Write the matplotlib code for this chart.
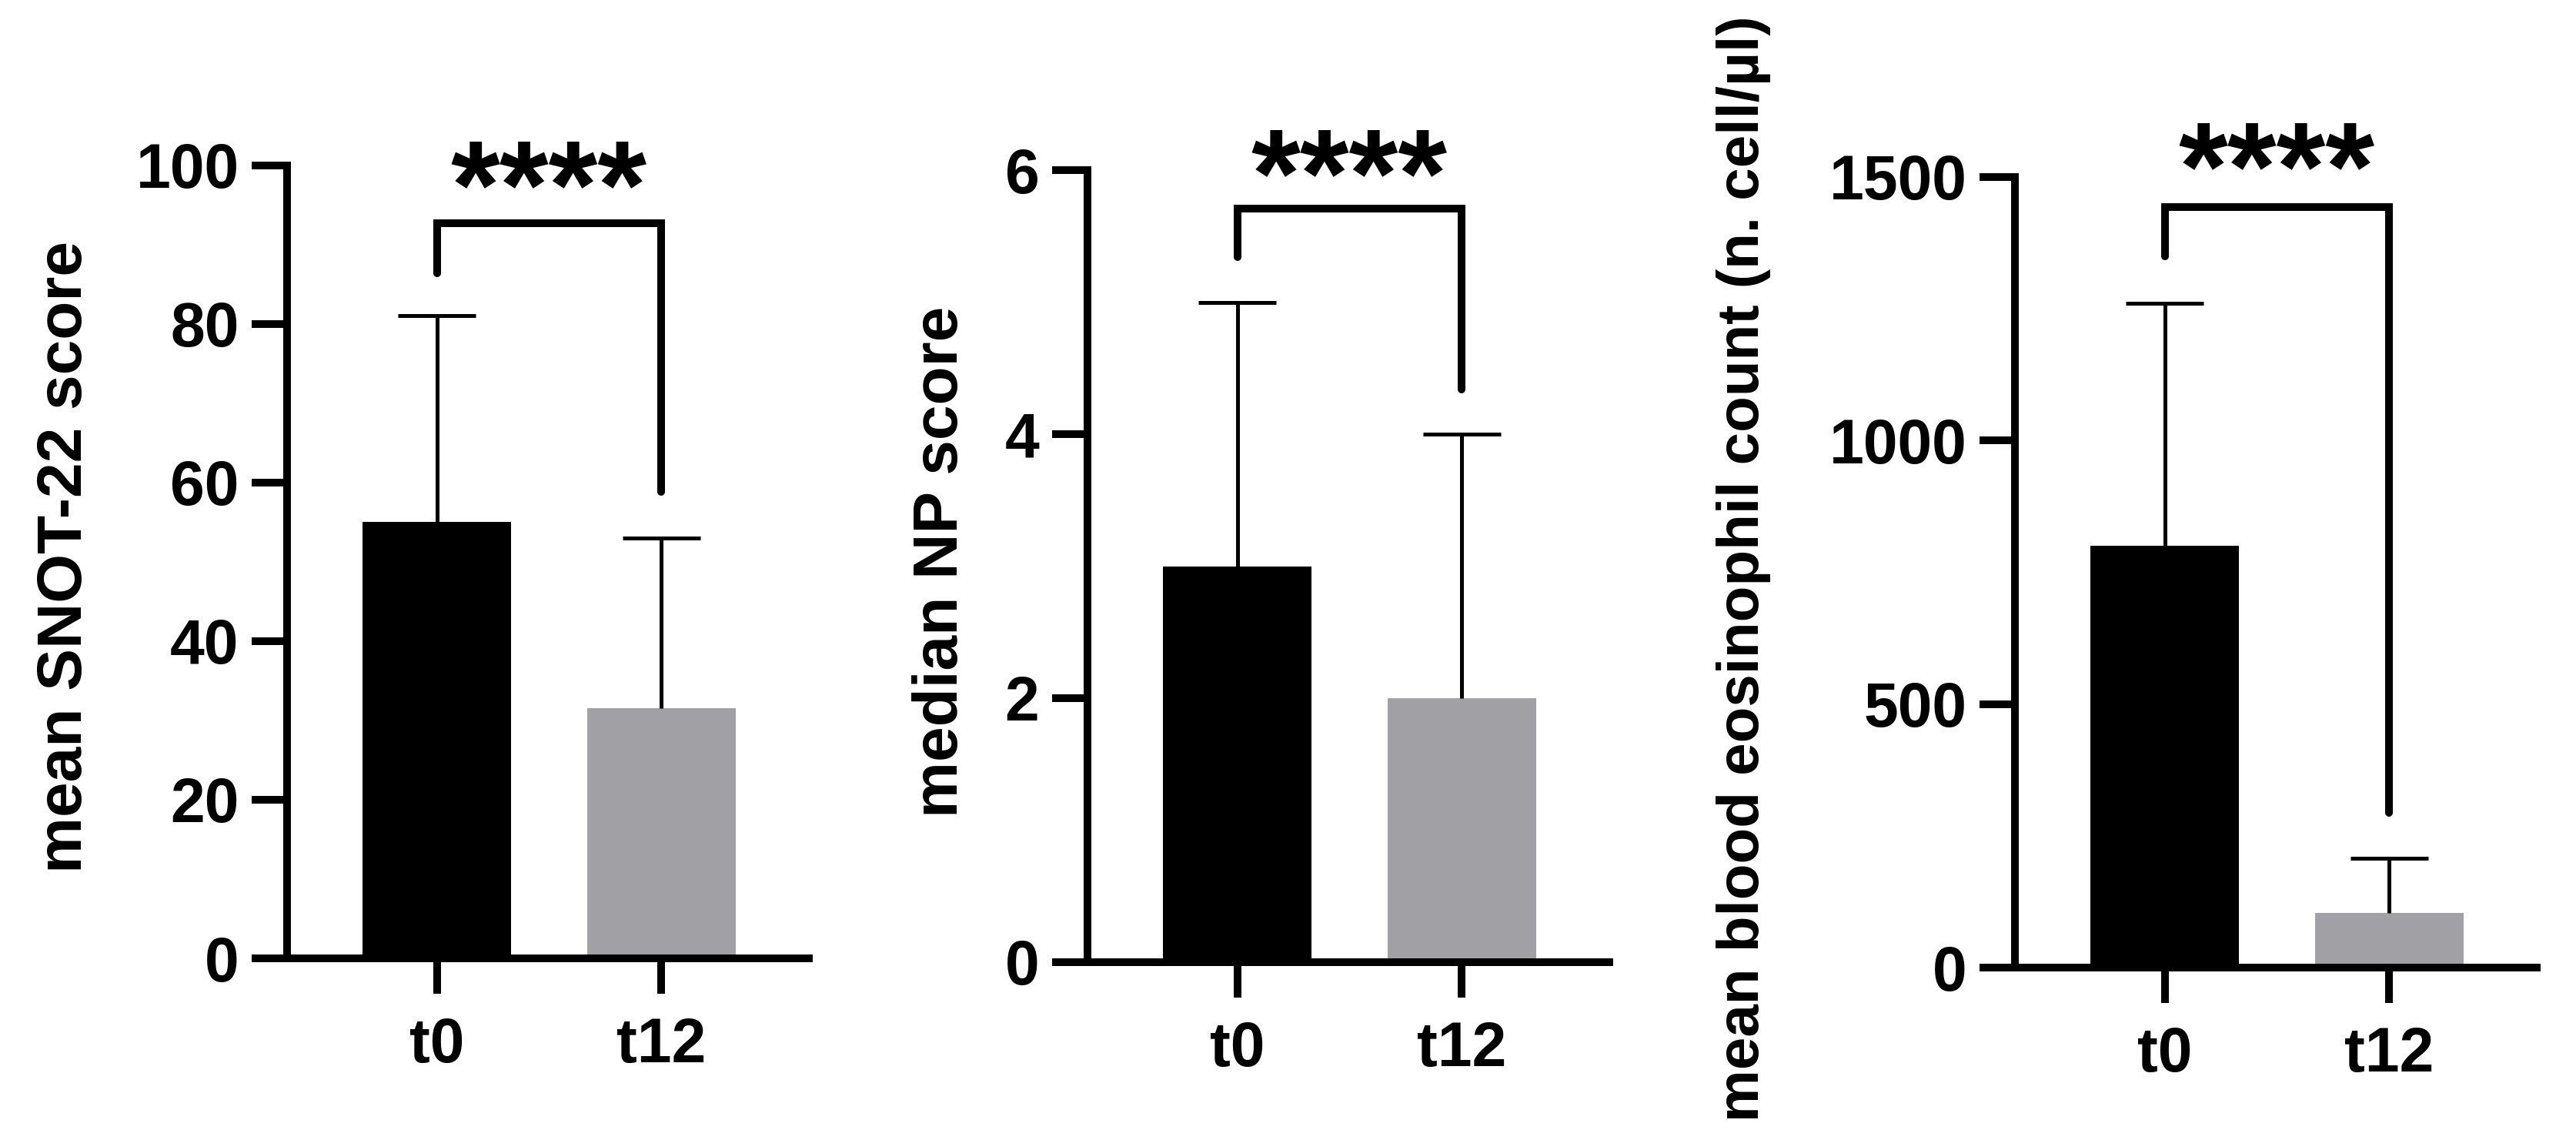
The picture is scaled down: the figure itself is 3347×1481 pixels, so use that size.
import numpy as np
import matplotlib
matplotlib.use("Agg")
import matplotlib.pyplot as plt

plt.rcParams['font.family'] = ['Liberation Sans', 'DejaVu Sans']
plt.rcParams['font.weight'] = 'bold'

# data
groups = ["t0", "t12"]
snot_mean = [55.0, 31.5]
snot_err = [26.0, 21.5]
np_median = [3.0, 2.0]
np_err = [2.0, 2.0]
eos_mean = [800.0, 103.0]
eos_err = [460.0, 105.0]

# significance brackets: [bracket top, left leg end, right leg end, stars y]
snot_sig = [92.7, 86.4, 58.8, 96.2]
np_sig = [5.71, 5.34, 4.34, 5.90]
eos_sig = [1443, 1350, 294, 1500]

bar_colors = ["#000000", "#a0a0a5"]

W, H = 3347, 1481
fig = plt.figure(figsize=(W / 100, H / 100), dpi=100)

LW = 7.2      # spine / bracket width (pt)
ELW = 3.6     # error bar width
FS = 58


def panel(rect, means, errs, sig, ylim, yticks, ylabel, label_xy, label_fs):
    ax = fig.add_axes(rect)
    x = np.arange(len(groups))
    ax.bar(x, means, width=0.662, color=bar_colors, zorder=2)
    # upward-only error bars with caps
    tops = np.array(means) + np.array(errs)
    ax.vlines(x, means, tops, color="black", lw=ELW, zorder=3)
    ax.hlines(tops, x - 0.173, x + 0.173, color="black", lw=ELW, zorder=3)

    # bracket and stars
    ax.plot([0, 0, 1, 1], [sig[1], sig[0], sig[0], sig[2]], color="black",
            lw=LW, solid_capstyle="round", solid_joinstyle="miter",
            clip_on=False, zorder=4)
    ax.text(0.5, sig[3], "****", ha="center", va="center", fontsize=118,
            fontweight="bold", clip_on=False)

    ax.set_xlim(-0.668, 1.658)
    ax.set_ylim(*ylim)
    ax.set_yticks(yticks)
    ax.set_xticks(x)
    ax.set_xticklabels(groups)
    for s in ["top", "right"]:
        ax.spines[s].set_visible(False)
    for s in ["left", "bottom"]:
        ax.spines[s].set_linewidth(LW)
    ax.tick_params(axis="both", width=LW, length=33, labelsize=FS)
    ax.tick_params(axis="y", pad=12)
    ax.tick_params(axis="x", pad=22)
    for lab in ax.get_xticklabels() + ax.get_yticklabels():
        lab.set_fontweight("bold")
    ax.set_ylabel(ylabel, fontsize=label_fs, fontweight="bold",
                  rotation_mode="anchor", va="baseline", ha="center")
    ax.yaxis.set_label_coords(label_xy[0], label_xy[1], transform=fig.transFigure)
    return ax


panel([373 / W, 1 - 1245 / H, 678 / W, 1030.3 / H], snot_mean, snot_err, snot_sig,
      (0, 100), [0, 20, 40, 60, 80, 100], "mean SNOT-22 score",
      (106 / W, 1 - 723 / H), 59)
panel([1413 / W, 1 - 1250 / H, 678 / W, 1029 / H], np_median, np_err, np_sig,
      (0, 6), [0, 2, 4, 6], "median NP score",
      (1244 / W, 1 - 730 / H), 59)
panel([2618 / W, 1 - 1257 / H, 678 / W, 1027 / H], eos_mean, eos_err, eos_sig,
      (0, 1500), [0, 500, 1000, 1500], "mean blood eosinophil count (n. cell/µl)",
      (2285 / W, 1 - 739 / H), 55)

fig.savefig("out.png", dpi=100, facecolor="white")
